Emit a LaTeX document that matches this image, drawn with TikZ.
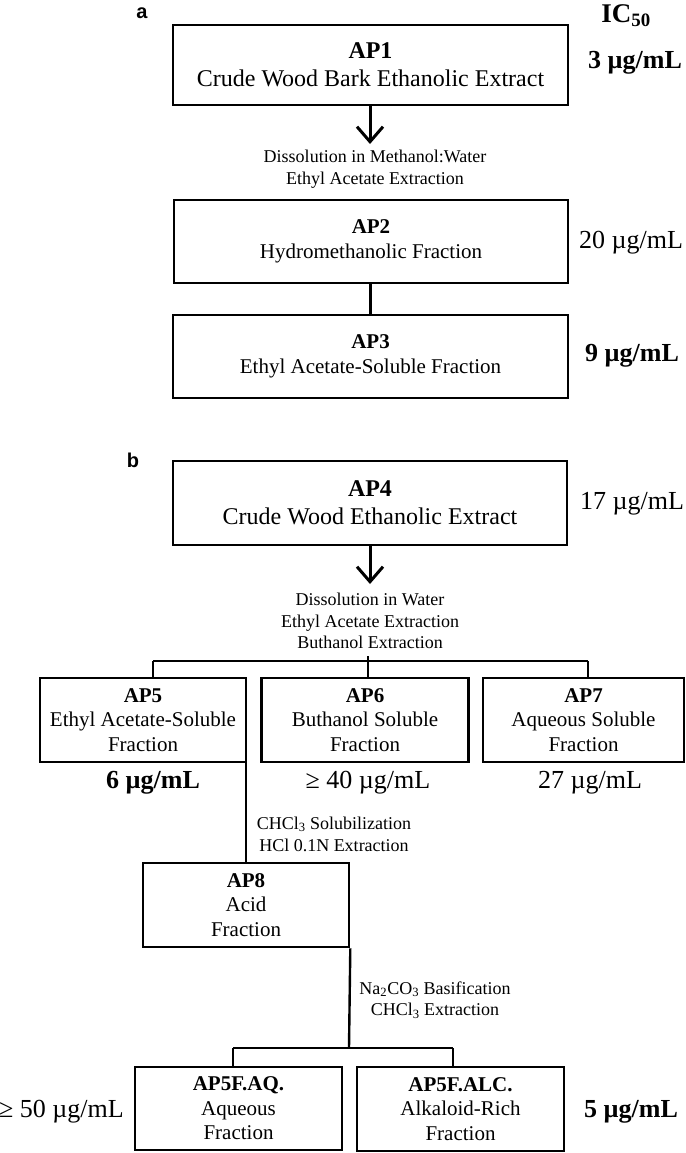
\documentclass[tikz,border=0pt]{standalone}
\usepackage{fontspec}
\setmainfont{Liberation Serif}
\newfontfamily\labfont{Liberation Sans}
\usetikzlibrary{arrows.meta}
\begin{document}
\begin{tikzpicture}[x=1pt,y=-1pt,
 box/.style={draw,line width=2.6pt,rectangle,align=center,inner sep=0pt},
 big/.style={font=\fontsize{24}{28}\selectfont},
 mid/.style={font=\fontsize{21}{24.5}\selectfont},
 steptxt/.style={font=\fontsize{18}{21.8}\selectfont,align=center,inner sep=0pt},
 val/.style={font=\fontsize{26}{30}\selectfont,inner sep=0pt},
 valb/.style={font=\fontsize{26}{30}\selectfont\bfseries,inner sep=0pt},
 panel/.style={font={\labfont\bfseries\fontsize{20}{24}\selectfont},inner sep=0pt},
 conn/.style={line width=2.4pt},
 arr/.style={line width=3pt,-{Straight Barb[length=15pt,width=26pt]}},
]
\useasboundingbox (0,0) rectangle (685,1153);

% ---- panel a ----
\node[panel] (la) at (142,13) {a};
\node[font={\fontsize{27}{30}\selectfont\bfseries},inner sep=0pt] (ic) at (626,16) {IC\textsubscript{50}};

\node[box,big,minimum width=395pt,minimum height=80pt] (ap1) at (370.5,65) {\textbf{AP1}\\Crude Wood Bark Ethanolic Extract};
\node[valb] (v1) at (635,63) {3 µg/mL};

\node[steptxt] (s1) at (375,169) {Dissolution in Methanol:Water\\Ethyl Acetate Extraction};
\coordinate (t1) at (370,144);
\draw[arr] (ap1.south -| t1) -- (t1);

\node[box,mid,minimum width=394pt,minimum height=83pt] (ap2) at (371,241.5) {\textbf{AP2}\\Hydromethanolic Fraction};
\node[val] (v2) at (631,243) {20 µg/mL};

\node[box,mid,minimum width=395pt,minimum height=83pt] (ap3) at (370.5,356.5) {\textbf{AP3}\\Ethyl Acetate-Soluble Fraction};
\node[valb] (v3) at (632,356) {9 µg/mL};
\draw[conn] (ap3.north |- ap2.south) -- (ap3.north);

% ---- panel b ----
\node[panel] (lb) at (133,460) {b};
\node[box,big,minimum width=394pt,minimum height=84pt] (ap4) at (370,503) {\textbf{AP4}\\Crude Wood Ethanolic Extract};
\node[val] (v4) at (632,504) {17 µg/mL};

\coordinate (t2) at (370,584);
\draw[arr] (ap4.south -| t2) -- (t2);
\node[steptxt] (s2) at (370,621) {Dissolution in Water\\Ethyl Acetate Extraction\\Buthanol Extraction};

\node[box,mid,minimum width=206pt,minimum height=84pt] (ap5) at (143,720) {\textbf{AP5}\\Ethyl Acetate-Soluble\\Fraction};
\node[box,mid,minimum width=207pt,minimum height=84pt] (ap6) at (365,720) {\textbf{AP6}\\Buthanol Soluble\\Fraction};
\node[box,mid,minimum width=201pt,minimum height=84pt] (ap7) at (583.5,720) {\textbf{AP7}\\Aqueous Soluble\\Fraction};

\coordinate (stem) at (368,656);
\coordinate (bl) at (153,661);
\coordinate (bm) at (368,661);
\coordinate (br) at (588,661);
\draw[conn] (stem) -- (bm);
\draw[conn] (bl) -- (br);
\draw[conn] (bl) -- (bl |- ap5.north);
\draw[conn] (bm) -- (bm |- ap6.north);
\draw[conn] (br) -- (br |- ap7.north);

\node[valb] (v5) at (153,783) {6 µg/mL};
\node[val] (v6) at (368,783) {≥ 40 µg/mL};
\node[val] (v7) at (590,783) {27 µg/mL};

\node[box,mid,minimum width=206pt,minimum height=84pt] (ap8) at (246,905) {\textbf{AP8}\\Acid\\Fraction};
\draw[conn] (ap8.north |- ap5.south) -- (ap8.north);
\node[steptxt] (s3) at (334,834) {CHCl\textsubscript{3} Solubilization\\HCl 0.1N Extraction};

\node[steptxt] (s4) at (435,1000) {Na\textsubscript{2}CO\textsubscript{3} Basification\\CHCl\textsubscript{3} Extraction};

\node[box,mid,minimum width=207pt,minimum height=83pt] (aq) at (238.5,1108.5) {\textbf{AP5F.AQ.}\\Aqueous\\Fraction};
\node[box,mid,minimum width=207pt,minimum height=84pt] (alc) at (460.5,1109) {\textbf{AP5F.ALC.}\\Alkaloid-Rich\\Fraction};

\coordinate (c2) at (349,1048);
\coordinate (bl2) at (233,1048);
\coordinate (br2) at (453,1048);
\draw[conn] (ap8.south east) -- (c2);
\draw[conn] (bl2) -- (br2);
\draw[conn] (bl2) -- (bl2 |- aq.north);
\draw[conn] (br2) -- (br2 |- alc.north);

\node[val,anchor=east] (v8) at (124,1112) {≥ 50 µg/mL};
\node[valb] (v9) at (631,1112) {5 µg/mL};
\end{tikzpicture}
\end{document}
